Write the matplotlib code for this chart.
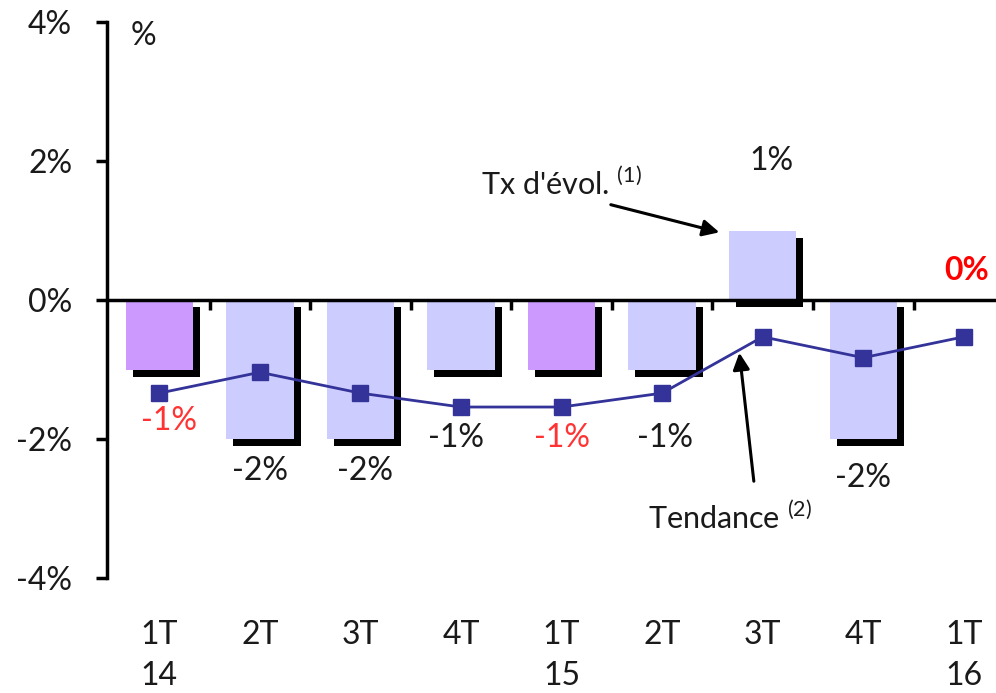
import numpy as np
import matplotlib.pyplot as plt
from matplotlib.transforms import ScaledTranslation

plt.rcParams['font.family'] = ['Lato', 'DejaVu Sans']
plt.rcParams['mathtext.fontset'] = 'custom'
plt.rcParams['mathtext.rm'] = 'Lato'

# Data
quarters = ["1T", "2T", "3T", "4T", "1T", "2T", "3T", "4T", "1T"]
years = ["14", "", "", "", "15", "", "", "", "16"]
evolution = [-1, -2, -2, -1, -1, -1, 1, -2, 0]
tendance = [-1.34, -1.04, -1.34, -1.54, -1.54, -1.34, -0.53, -0.83, -0.53]
bar_labels = ["-1%", "-2%", "-2%", "-1%", "-1%", "-1%", "1%", "-2%", "0%"]
highlight = [True, False, False, False, True, False, False, False, False]

# label placement (data units)
label_dx = [0.1, 0.0, 0.05, -0.05, 0.0, 0.03, 0.09, 0.0, 0.03]
label_y = [-1.74, -2.46, -2.46, -1.99, -1.99, -1.99, 2.0, -2.56, 0.42]

x = np.arange(len(quarters))
bar_colors = ["#CC99FF" if h else "#CCCCFF" for h in highlight]

fig = plt.figure(figsize=(9.96, 6.93), dpi=100)
ax = fig.add_axes([107 / 996, 1 - 578 / 693, 1 - 107 / 996, 556 / 693])

# shadows
shadow = ax.bar(x, evolution, width=0.67, color="black", zorder=1)
off = ScaledTranslation(7 / 100, -7 / 100, fig.dpi_scale_trans)
for p in shadow:
    p.set_transform(ax.transData + off)

ax.bar(x, evolution, width=0.67, color=bar_colors, zorder=2)

ax.plot(x, tendance, color="#333399", lw=2, marker="s", markersize=12, zorder=4)

txt_color = "#1a1a1a"
for i in range(len(x)):
    if i == len(x) - 1:
        col, fw = "#FF0000", "bold"
    elif highlight[i]:
        col, fw = "#FF3333", "normal"
    else:
        col, fw = txt_color, "normal"
    ax.text(x[i] + label_dx[i], label_y[i], bar_labels[i], ha="center", va="center",
            fontsize=23, color=col, fontweight=fw, zorder=5)

# axes styling
ax.set_xlim(-0.52, 8.32)
ax.set_ylim(-4, 4)
ax.spines["top"].set_visible(False)
ax.spines["right"].set_visible(False)
ax.spines["bottom"].set_position(("data", 0))
ax.spines["bottom"].set_linewidth(2.5)
ax.spines["bottom"].set_zorder(3)
ax.spines["left"].set_linewidth(2.5)

ax.set_yticks([-4, -2, 0, 2, 4])
ax.set_yticklabels(["-4%", "-2%", "0%", "2%", "4%"])
ax.tick_params(axis="y", length=8, width=2.5, pad=17, labelsize=23, labelcolor=txt_color)
ax.set_xticks(x[:-1] + 0.5)
ax.set_xticklabels([])
ax.tick_params(axis="x", direction="out", length=7, width=2.5)

tr = ax.get_xaxis_transform()
for i in range(len(x)):
    ax.text(x[i], -0.1025, quarters[i], transform=tr, ha="center", va="center",
            fontsize=23, color=txt_color)
    ax.text(x[i], -0.176, years[i], transform=tr, ha="center", va="center",
            fontsize=23, color=txt_color)

ax.text(-0.16, 3.8, "%", ha="center", va="center", fontsize=23, color=txt_color)

# annotations
ax.annotate("", xy=(5.596, 0.964), xytext=(4.463, 1.381),
            arrowprops=dict(arrowstyle="-|>", color="black", lw=2.2, mutation_scale=25))
ax.text(4.80, 1.68, r"Tx d'évol. $^{\mathrm{(1)}}$", ha="right", va="center",
        fontsize=22, color=txt_color)
ax.annotate("", xy=(5.765, -0.72), xytext=(5.915, -2.647),
            arrowprops=dict(arrowstyle="-|>", color="black", lw=2.2, mutation_scale=25))
ax.text(4.861, -3.12, r"Tendance $^{\mathrm{(2)}}$", ha="left", va="center",
        fontsize=22, color=txt_color)

fig.savefig("out.png", dpi=100)
